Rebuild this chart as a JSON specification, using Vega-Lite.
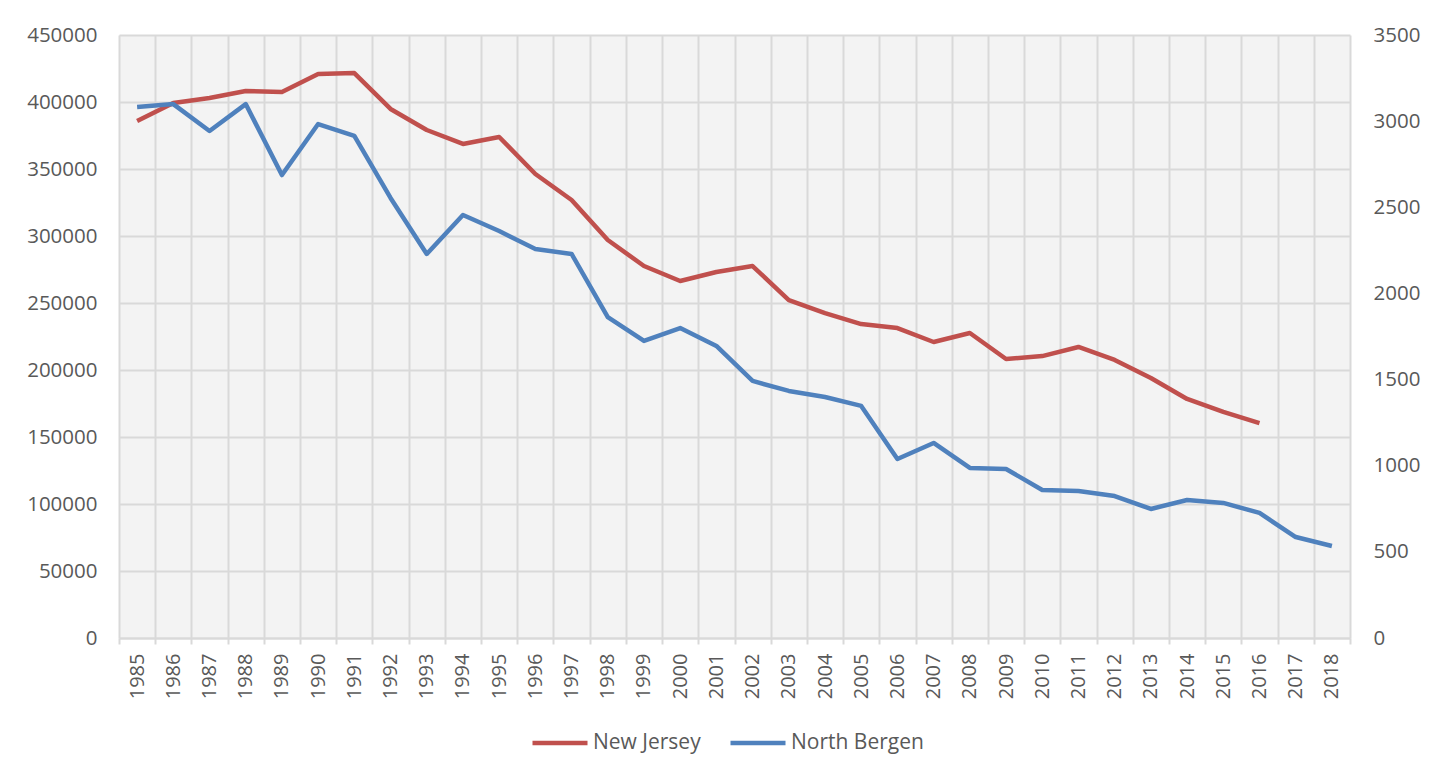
{
  "$schema": "https://vega.github.io/schema/vega-lite/v6.json",
  "autosize": "none",
  "width": 1231,
  "height": 603,
  "padding": {"left": 119, "top": 35, "right": 93, "bottom": 139},
  "background": "#ffffff",
  "config": {
    "font": "Open Sans",
    "view": {"fill": "#f3f3f3", "stroke": null}
  },
  "data": {
    "values": [
      {"year": "1985", "series": "New Jersey", "value": 385800},
      {"year": "1986", "series": "New Jersey", "value": 399250},
      {"year": "1987", "series": "New Jersey", "value": 403000},
      {"year": "1988", "series": "New Jersey", "value": 408200},
      {"year": "1989", "series": "New Jersey", "value": 407500},
      {"year": "1990", "series": "New Jersey", "value": 420900},
      {"year": "1991", "series": "New Jersey", "value": 421600},
      {"year": "1992", "series": "New Jersey", "value": 394800},
      {"year": "1993", "series": "New Jersey", "value": 379100},
      {"year": "1994", "series": "New Jersey", "value": 368700},
      {"year": "1995", "series": "New Jersey", "value": 373900},
      {"year": "1996", "series": "New Jersey", "value": 346300},
      {"year": "1997", "series": "New Jersey", "value": 326900},
      {"year": "1998", "series": "New Jersey", "value": 297000},
      {"year": "1999", "series": "New Jersey", "value": 277600},
      {"year": "2000", "series": "New Jersey", "value": 266400},
      {"year": "2001", "series": "New Jersey", "value": 273100},
      {"year": "2002", "series": "New Jersey", "value": 277600},
      {"year": "2003", "series": "New Jersey", "value": 252200},
      {"year": "2004", "series": "New Jersey", "value": 242500},
      {"year": "2005", "series": "New Jersey", "value": 234300},
      {"year": "2006", "series": "New Jersey", "value": 231300},
      {"year": "2007", "series": "New Jersey", "value": 220900},
      {"year": "2008", "series": "New Jersey", "value": 227600},
      {"year": "2009", "series": "New Jersey", "value": 208200},
      {"year": "2010", "series": "New Jersey", "value": 210400},
      {"year": "2011", "series": "New Jersey", "value": 217200},
      {"year": "2012", "series": "New Jersey", "value": 207500},
      {"year": "2013", "series": "New Jersey", "value": 194000},
      {"year": "2014", "series": "New Jersey", "value": 178400},
      {"year": "2015", "series": "New Jersey", "value": 168700},
      {"year": "2016", "series": "New Jersey", "value": 160400},
      {"year": "1985", "series": "North Bergen", "value": 3082},
      {"year": "1986", "series": "North Bergen", "value": 3099},
      {"year": "1987", "series": "North Bergen", "value": 2943},
      {"year": "1988", "series": "North Bergen", "value": 3099},
      {"year": "1989", "series": "North Bergen", "value": 2687},
      {"year": "1990", "series": "North Bergen", "value": 2983},
      {"year": "1991", "series": "North Bergen", "value": 2914},
      {"year": "1992", "series": "North Bergen", "value": 2554},
      {"year": "1993", "series": "North Bergen", "value": 2229},
      {"year": "1994", "series": "North Bergen", "value": 2455},
      {"year": "1995", "series": "North Bergen", "value": 2362},
      {"year": "1996", "series": "North Bergen", "value": 2258},
      {"year": "1997", "series": "North Bergen", "value": 2229},
      {"year": "1998", "series": "North Bergen", "value": 1863},
      {"year": "1999", "series": "North Bergen", "value": 1724},
      {"year": "2000", "series": "North Bergen", "value": 1799},
      {"year": "2001", "series": "North Bergen", "value": 1695},
      {"year": "2002", "series": "North Bergen", "value": 1492},
      {"year": "2003", "series": "North Bergen", "value": 1434},
      {"year": "2004", "series": "North Bergen", "value": 1399},
      {"year": "2005", "series": "North Bergen", "value": 1347},
      {"year": "2006", "series": "North Bergen", "value": 1039},
      {"year": "2007", "series": "North Bergen", "value": 1132},
      {"year": "2008", "series": "North Bergen", "value": 987},
      {"year": "2009", "series": "North Bergen", "value": 981},
      {"year": "2010", "series": "North Bergen", "value": 859},
      {"year": "2011", "series": "North Bergen", "value": 853},
      {"year": "2012", "series": "North Bergen", "value": 824},
      {"year": "2013", "series": "North Bergen", "value": 749},
      {"year": "2014", "series": "North Bergen", "value": 801},
      {"year": "2015", "series": "North Bergen", "value": 784},
      {"year": "2016", "series": "North Bergen", "value": 726},
      {"year": "2017", "series": "North Bergen", "value": 586},
      {"year": "2018", "series": "North Bergen", "value": 534}
    ]
  },
  "encoding": {
    "x": {
      "field": "year",
      "type": "ordinal",
      "bandPosition": 0.5,
      "scale": {"type": "band", "paddingInner": 0, "paddingOuter": 0},
      "axis": {
        "title": null,
        "tickBand": "extent",
        "grid": true,
        "gridColor": "#d9d9d9",
        "gridWidth": 2,
        "domainColor": "#d9d9d9",
        "domainWidth": 2,
        "tickColor": "#d9d9d9",
        "tickWidth": 2,
        "tickSize": 6,
        "labelAngle": -90,
        "labelAlign": "right",
        "labelBaseline": "middle",
        "labelFontSize": 20,
        "labelColor": "#595959",
        "labelPadding": 9
      }
    },
    "color": {
      "field": "series",
      "type": "nominal",
      "scale": {"domain": ["New Jersey", "North Bergen"], "range": ["#C0504D", "#4F81BD"]},
      "legend": {
        "title": null,
        "orient": "none",
        "legendX": 411,
        "legendY": 678,
        "direction": "horizontal",
        "symbolType": "stroke",
        "symbolSize": 3025,
        "symbolStrokeWidth": 4.5,
        "labelFontSize": 21,
        "labelColor": "#595959",
        "labelOffset": 3,
        "columnPadding": 20
      }
    }
  },
  "layer": [
    {
      "transform": [{"filter": "datum.series === 'New Jersey'"}],
      "mark": {"type": "line", "strokeWidth": 4.5, "strokeJoin": "round"},
      "encoding": {
        "y": {
          "field": "value",
          "type": "quantitative",
          "scale": {"domain": [0, 450000], "nice": false},
          "axis": {
            "title": null,
            "orient": "left",
            "values": [0, 50000, 100000, 150000, 200000, 250000, 300000, 350000, 400000, 450000],
            "format": "d",
            "grid": true,
            "gridColor": "#d9d9d9",
            "gridWidth": 2,
            "domain": false,
            "ticks": false,
            "labelFontSize": 20.5,
            "labelColor": "#595959",
            "labelPadding": 22
          }
        }
      }
    },
    {
      "transform": [{"filter": "datum.series === 'North Bergen'"}],
      "mark": {"type": "line", "strokeWidth": 4.5, "strokeJoin": "round"},
      "encoding": {
        "y": {
          "field": "value",
          "type": "quantitative",
          "scale": {"domain": [0, 3500], "nice": false},
          "axis": {
            "title": null,
            "orient": "right",
            "values": [0, 500, 1000, 1500, 2000, 2500, 3000, 3500],
            "format": "d",
            "grid": false,
            "domain": false,
            "ticks": false,
            "labelFontSize": 20.5,
            "labelColor": "#595959",
            "labelPadding": 23
          }
        }
      }
    }
  ],
  "resolve": {"scale": {"y": "independent"}}
}
